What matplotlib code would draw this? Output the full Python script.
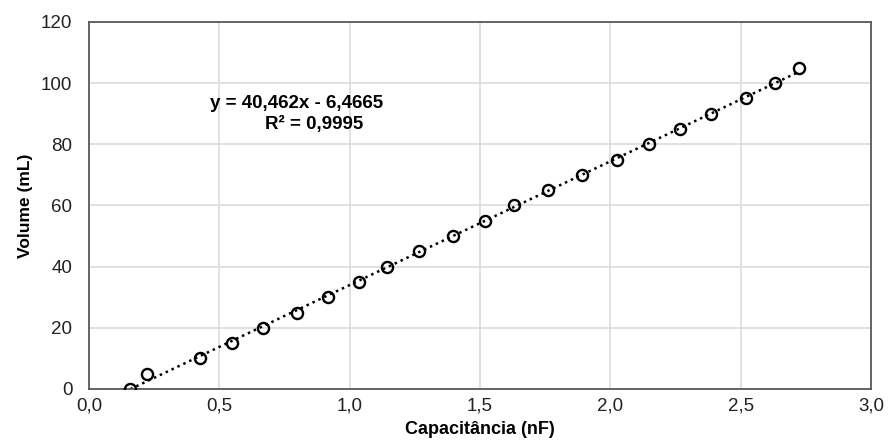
import matplotlib
matplotlib.use("Agg")
import matplotlib.pyplot as plt
from matplotlib.ticker import FuncFormatter

plt.rcParams["font.family"] = ["Liberation Sans", "DejaVu Sans"]

# leituras do gráfico
capacitancia_nf = [0.159, 0.221, 0.425, 0.549, 0.668, 0.798, 0.918, 1.035,
                   1.145, 1.267, 1.398, 1.518, 1.630, 1.762, 1.890, 2.024,
                   2.148, 2.268, 2.386, 2.520, 2.631, 2.725]
volume_ml = [0, 5, 10, 15, 20, 25, 30, 35, 40, 45, 50, 55, 60, 65, 70, 75,
             80, 85, 90, 95, 100, 105]

# linha de tendência (Excel)
slope = 40.462
intercept = -6.4665
eq_label = "y = 40,462x - 6,4665"
r2_label = "R² = 0,9995"

x_ticks = [0.0, 0.5, 1.0, 1.5, 2.0, 2.5, 3.0]
y_ticks = [0, 20, 40, 60, 80, 100, 120]

fig = plt.figure(figsize=(8.88, 4.44), dpi=100)
ax = fig.add_axes([0.1002, 0.1239, 0.8808, 0.8266])

x_line = [min(capacitancia_nf), max(capacitancia_nf)]
y_line = [slope * x + intercept for x in x_line]
ax.plot(x_line, y_line, linestyle=(0, (1, 1.6)), color="black", linewidth=1.8,
        zorder=2)
ax.plot(capacitancia_nf, volume_ml, linestyle="none", marker="o",
        markersize=8, markerfacecolor="none", markeredgecolor="black",
        markeredgewidth=1.7, zorder=3)

ax.set_xlim(0, 3)
ax.set_ylim(0, 120)
ax.set_xticks(x_ticks)
ax.set_yticks(y_ticks)
ax.xaxis.set_major_formatter(FuncFormatter(lambda v, p: f"{v:.1f}".replace(".", ",")))
ax.tick_params(length=0, labelsize=13.5, colors="#222222")
ax.tick_params(axis="x", pad=6)
ax.tick_params(axis="y", pad=12)
ax.grid(True, color="#d9d9d9", linewidth=1.1)
ax.set_axisbelow(True)
for s in ax.spines.values():
    s.set_color("#595959")
    s.set_linewidth(1.3)

ax.set_xlabel("Capacitância (nF)", fontsize=13, fontweight="bold", labelpad=5)
ax.set_ylabel("Volume (mL)", fontsize=12.5, fontweight="bold", labelpad=6)

ax.text(0.796, 93.3, eq_label, fontsize=13.5, fontweight="bold",
        ha="center", va="center")
ax.text(0.865, 86.5, r2_label, fontsize=13.5, fontweight="bold",
        ha="center", va="center")

fig.savefig("out.png", dpi=100)
